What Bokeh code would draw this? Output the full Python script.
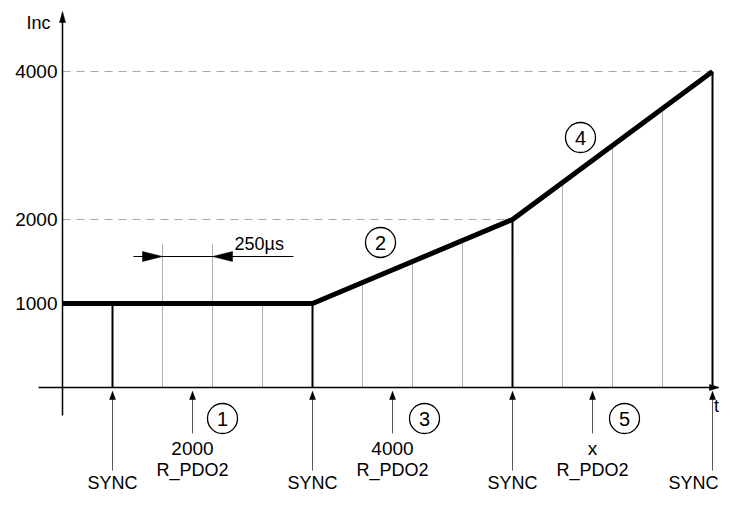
import numpy as np
from bokeh.plotting import figure
from bokeh.models import Range1d
from bokeh.core.properties import value
from bokeh.embed import file_html
from bokeh.resources import INLINE

# ---------------- data ----------------
sync_times = [0, 1000, 2000, 3000]            # µs, SYNC instants
sync_label = "SYNC"
cycle_us = 250                                 # sub-cycle length
curve_t = [-250, 1000, 2000, 3000]             # µs
curve_inc = [1000, 1000, 2000, 4000]           # Inc
tick_values = [1000, 2000, 4000]
tick_labels = ["1000", "2000", "4000"]
dash_end_t = {2000: 2000, 4000: 3000}          # where the dashed guide lines stop
pdo_times = [400, 1400, 2400]                  # µs, R_PDO2 arrival
pdo_values = ["2000", "4000", "x"]
pdo_name = "R_PDO2"
marker_numbers = ["1", "2", "3", "4", "5"]
dim_label = "250µs"

# ---------------- geometry helpers (pixel scale of the schematic) ----------------
SX = 0.2      # px per µs
SY = 0.084    # px per drawing unit
X0, Y0 = 112, 387   # canvas position of t=0, level 0


def ylev(v):
    """schematic (non-linear) Inc axis"""
    v = np.asarray(v, dtype=float)
    return np.where(v <= 2000, v, 2000 + (v - 2000) * 0.881)


def tx(px):
    return (px - X0) / SX


def ly(py):
    return (Y0 - py) / SY


W, H = 719, 494
p = figure(width=W, height=H, output_backend="svg", toolbar_location=None,
           x_range=Range1d(tx(0), tx(W)), y_range=Range1d(ly(H), ly(0)),
           min_border=0, outline_line_color=None)
p.axis.visible = False
p.grid.visible = False
p.background_fill_color = "white"
p.border_fill_color = "white"

FONT = value("Liberation Sans")
FS = value("18px")
FSD = value("19px")
FSC = value("20px")


def head(xt, yt, direction, length, width):
    """triangle arrowhead, tip at (xt, yt) in data, sizes in px"""
    L, Wd = length, width / 2
    if direction == "up":
        return [xt, xt - Wd / SX, xt + Wd / SX], [yt, yt - L / SY, yt - L / SY]
    if direction == "right":
        return [xt, xt - L / SX, xt - L / SX], [yt, yt + Wd / SY, yt - Wd / SY]
    if direction == "left":
        return [xt, xt + L / SX, xt + L / SX], [yt, yt + Wd / SY, yt - Wd / SY]


heads_x, heads_y = [], []

curve_lev = ylev(curve_inc)

# dashed guide lines
for v in [4000, 2000]:
    lv = float(ylev(v))
    p.line([curve_t[0], dash_end_t[v]], [lv, lv], line_color="#a8a8a8",
           line_width=1, line_dash="8 6")

# thin sub-cycle lines
sub_t = [t for t in range(cycle_us, sync_times[-1], cycle_us) if t % 1000 != 0]
sub_top = np.interp(sub_t, curve_t, curve_lev)
sub_top = [max(h, ly(243)) if t in (cycle_us, 2 * cycle_us) else h for t, h in zip(sub_t, sub_top)]
p.segment(x0=sub_t, y0=[0] * len(sub_t), x1=sub_t, y1=sub_top,
          line_color="#b0b0b0", line_width=1)

# SYNC vertical lines
sync_top = np.interp(sync_times, curve_t, curve_lev)
p.segment(x0=sync_times, y0=[0] * 4, x1=sync_times, y1=sync_top,
          line_color="black", line_width=2)

# axes
p.line([curve_t[0], curve_t[0]], [ly(415), ly(20)], line_color="black", line_width=1.5)
hx, hy = head(curve_t[0], ly(11), "up", 11, 6)
heads_x.append(hx); heads_y.append(hy)
p.line([tx(38), tx(712)], [0, 0], line_color="black", line_width=1.5)
hx, hy = head(tx(719), 0, "right", 10, 6)
heads_x.append(hx); heads_y.append(hy)

# position curve
p.line(curve_t, curve_lev, line_color="black", line_width=5, line_join="miter")

# dimension 250µs
yd = ly(256)
p.line([tx(133), tx(293)], [yd, yd], line_color="black", line_width=1)
hx, hy = head(cycle_us, yd, "right", 20, 10)
heads_x.append(hx); heads_y.append(hy)
hx, hy = head(2 * cycle_us, yd, "left", 20, 10)
heads_x.append(hx); heads_y.append(hy)
p.text(x=[tx(234)], y=[ly(243)], text=[dim_label], text_font=FONT, text_font_size=FS,
       text_align="left", text_baseline="middle", text_color="black")

# bottom arrows
tip = ly(391)
p.segment(x0=sync_times, y0=[ly(470)] * 4, x1=sync_times, y1=[tip] * 4,
          line_color="#555555", line_width=1)
p.segment(x0=pdo_times, y0=[ly(433)] * 3, x1=pdo_times, y1=[tip] * 3,
          line_color="#555555", line_width=1)
for t in list(sync_times) + list(pdo_times):
    hx, hy = head(t, tip, "up", 8, 6)
    heads_x.append(hx); heads_y.append(hy)

p.patches(heads_x, heads_y, fill_color="black", line_color="black", line_width=0.5)

# labels below axis (the last one is kept inside the canvas)
p.text(x=sync_times[:-1], y=[ly(482)] * 3, text=[sync_label] * 3, text_font=FONT,
       text_font_size=FS, text_align="center", text_baseline="middle", text_color="black")
p.text(x=[tx(718)], y=[ly(482)], text=[sync_label], text_font=FONT,
       text_font_size=FS, text_align="right", text_baseline="middle", text_color="black")
p.text(x=pdo_times, y=[ly(448)] * 3, text=pdo_values, text_font=FONT,
       text_font_size=FSD, text_align="center", text_baseline="middle", text_color="black")
p.text(x=pdo_times, y=[ly(469)] * 3, text=[pdo_name] * 3, text_font=FONT,
       text_font_size=FS, text_align="center", text_baseline="middle", text_color="black")

# y tick labels & axis names
p.text(x=[tx(57)] * 3, y=list(ylev(tick_values)), text=tick_labels, text_font=FONT,
       text_font_size=FSD, text_align="right", text_baseline="middle", text_color="black")
p.text(x=[tx(50)], y=[ly(22)], text=["Inc"], text_font=FONT, text_font_size=FS,
       text_align="right", text_baseline="middle", text_color="black")
p.text(x=[tx(716)], y=[ly(405)], text=["t"], text_font=FONT, text_font_size=FS,
       text_align="center", text_baseline="middle", text_color="black")

# numbered circles
circ_x = [tx(222), tx(380), tx(424), tx(580), tx(624)]
circ_y = [ly(418), ly(242), ly(418), ly(137), ly(418)]
p.scatter(circ_x, circ_y, marker="circle", size=30, fill_color="white",
          line_color="black", line_width=1.3)
p.text(x=circ_x, y=circ_y, text=marker_numbers, text_font=FONT, text_font_size=FSC,
       text_align="center", text_baseline="middle", text_color="black")

open("out.html", "w").write(file_html(p, INLINE))
